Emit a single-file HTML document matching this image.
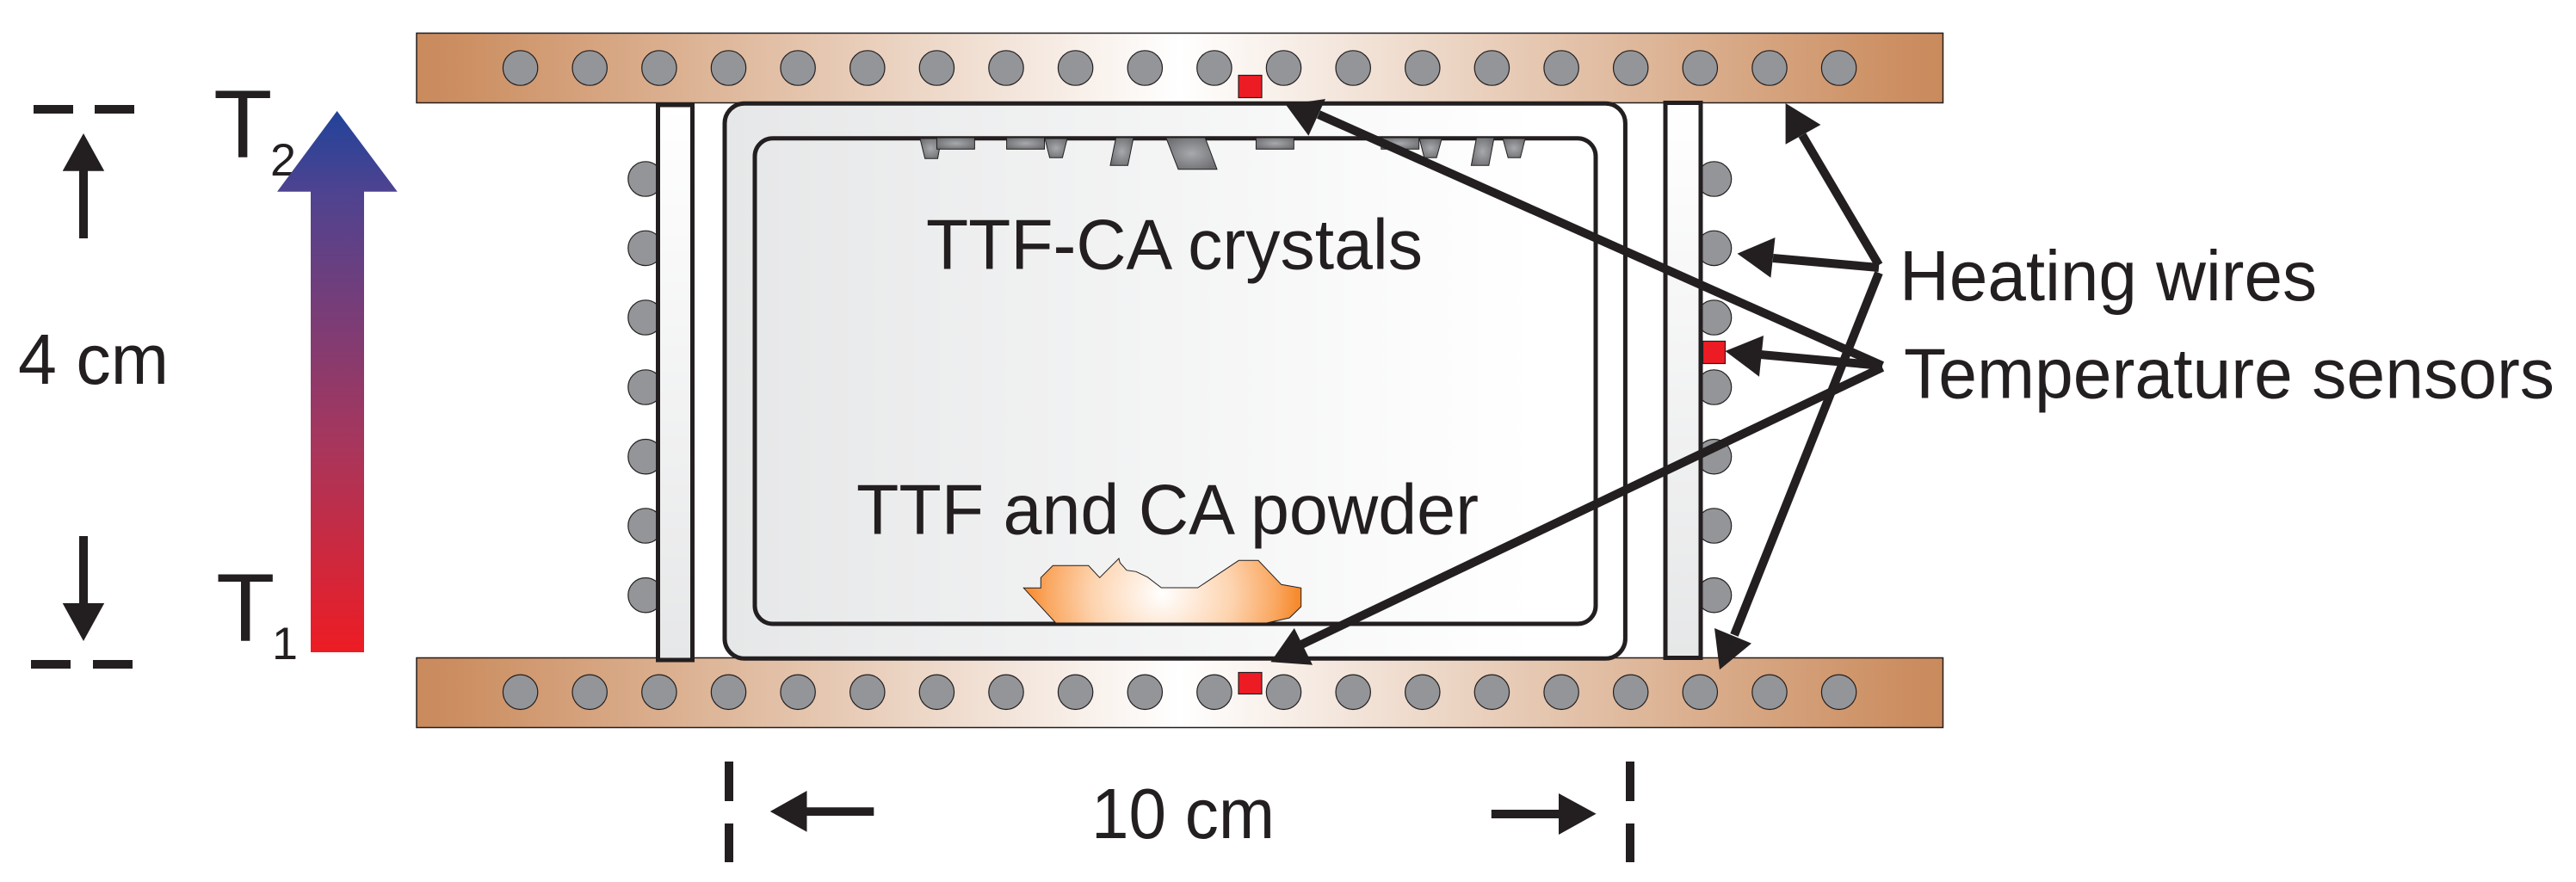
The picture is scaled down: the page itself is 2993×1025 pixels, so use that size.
<!DOCTYPE html>
<html><head><meta charset="utf-8"><style>html,body{margin:0;padding:0;background:#fff}svg{display:block}text{font-family:"Liberation Sans",sans-serif;fill:#231f20}</style></head><body>
<svg xmlns="http://www.w3.org/2000/svg" width="2993" height="1025" viewBox="0 0 2993 1025">
<defs>
<linearGradient id="pl" gradientUnits="userSpaceOnUse" x1="483" y1="0" x2="2258" y2="0"><stop offset="0" stop-color="#c98a5c"/><stop offset=".03" stop-color="#cc8f62"/><stop offset=".5" stop-color="#fff"/><stop offset=".97" stop-color="#cc8f62"/><stop offset="1" stop-color="#c98a5c"/></linearGradient>
<linearGradient id="gl" gradientUnits="userSpaceOnUse" x1="842" y1="0" x2="1780" y2="0"><stop offset="0" stop-color="#e6e7e8"/><stop offset="1" stop-color="#fff"/></linearGradient>
<linearGradient id="wl" x1="0" y1="0" x2="0" y2="1"><stop offset="0" stop-color="#fff"/><stop offset="1" stop-color="#e6e7e8"/></linearGradient>
<linearGradient id="ar" gradientUnits="userSpaceOnUse" x1="0" y1="129" x2="0" y2="758"><stop offset="0" stop-color="#21439a"/><stop offset=".15" stop-color="#4e4390"/><stop offset=".62" stop-color="#a8365c"/><stop offset="1" stop-color="#ed1c24"/></linearGradient>
<radialGradient id="cr" cx=".5" cy=".5" r=".6"><stop offset="0" stop-color="#a7a9ac"/><stop offset="1" stop-color="#6d6e71"/></radialGradient>
<radialGradient id="po" gradientUnits="userSpaceOnUse" cx="0" cy="0" r="1" gradientTransform="translate(1350 690) scale(165 150)"><stop offset="0" stop-color="#fff"/><stop offset=".5" stop-color="#fdd3ae"/><stop offset=".8" stop-color="#faa862"/><stop offset="1" stop-color="#f58220"/></radialGradient>
</defs>
<rect x="484" y="38.5" width="1773.5" height="81" fill="url(#pl)" stroke="#231f20" stroke-width="1.5"/>
<rect x="484" y="764.5" width="1773.5" height="81" fill="url(#pl)" stroke="#231f20" stroke-width="1.5"/>
<g fill="#939598" stroke="#231f20" stroke-width="1.2">
<circle cx="604.6" cy="79" r="20.2"/><circle cx="685.2" cy="79" r="20.2"/><circle cx="765.9" cy="79" r="20.2"/><circle cx="846.5" cy="79" r="20.2"/><circle cx="927.1" cy="79" r="20.2"/><circle cx="1007.8" cy="79" r="20.2"/><circle cx="1088.4" cy="79" r="20.2"/><circle cx="1169" cy="79" r="20.2"/><circle cx="1249.6" cy="79" r="20.2"/><circle cx="1330.3" cy="79" r="20.2"/><circle cx="1410.9" cy="79" r="20.2"/><circle cx="1491.5" cy="79" r="20.2"/><circle cx="1572.2" cy="79" r="20.2"/><circle cx="1652.8" cy="79" r="20.2"/><circle cx="1733.4" cy="79" r="20.2"/><circle cx="1814.1" cy="79" r="20.2"/><circle cx="1894.7" cy="79" r="20.2"/><circle cx="1975.3" cy="79" r="20.2"/><circle cx="2056" cy="79" r="20.2"/><circle cx="2136.6" cy="79" r="20.2"/>
<circle cx="604.6" cy="804.3" r="20.2"/><circle cx="685.2" cy="804.3" r="20.2"/><circle cx="765.9" cy="804.3" r="20.2"/><circle cx="846.5" cy="804.3" r="20.2"/><circle cx="927.1" cy="804.3" r="20.2"/><circle cx="1007.8" cy="804.3" r="20.2"/><circle cx="1088.4" cy="804.3" r="20.2"/><circle cx="1169" cy="804.3" r="20.2"/><circle cx="1249.6" cy="804.3" r="20.2"/><circle cx="1330.3" cy="804.3" r="20.2"/><circle cx="1410.9" cy="804.3" r="20.2"/><circle cx="1491.5" cy="804.3" r="20.2"/><circle cx="1572.2" cy="804.3" r="20.2"/><circle cx="1652.8" cy="804.3" r="20.2"/><circle cx="1733.4" cy="804.3" r="20.2"/><circle cx="1814.1" cy="804.3" r="20.2"/><circle cx="1894.7" cy="804.3" r="20.2"/><circle cx="1975.3" cy="804.3" r="20.2"/><circle cx="2056" cy="804.3" r="20.2"/><circle cx="2136.6" cy="804.3" r="20.2"/>
<circle cx="750" cy="208" r="20.2"/><circle cx="750" cy="288.4" r="20.2"/><circle cx="750" cy="369" r="20.2"/><circle cx="750" cy="450" r="20.2"/><circle cx="750" cy="530.7" r="20.2"/><circle cx="750" cy="611" r="20.2"/><circle cx="750" cy="691.7" r="20.2"/>
<circle cx="1991.5" cy="208" r="20.2"/><circle cx="1991.5" cy="288.4" r="20.2"/><circle cx="1991.5" cy="369" r="20.2"/><circle cx="1991.5" cy="450" r="20.2"/><circle cx="1991.5" cy="530.7" r="20.2"/><circle cx="1991.5" cy="611" r="20.2"/><circle cx="1991.5" cy="691.7" r="20.2"/>
</g>
<rect x="842" y="120.3" width="1046.4" height="645" rx="23" ry="23" fill="url(#gl)" stroke="#231f20" stroke-width="5"/>
<rect x="877" y="160.7" width="977" height="564.3" rx="21" ry="21" fill="url(#gl)" stroke="#231f20" stroke-width="5"/>
<rect x="764.5" y="122" width="40" height="645" fill="url(#wl)" stroke="#231f20" stroke-width="5"/>
<rect x="1935" y="119.5" width="41" height="645" fill="url(#wl)" stroke="#231f20" stroke-width="5"/>
<g fill="url(#cr)" stroke="#231f20" stroke-width="1">
<polygon points="1069,161 1093.6,161 1089.5,184.3 1074.7,184.3"/>
<rect x="1088.5" y="160" width="43.9" height="13.3"/>
<rect x="1169.6" y="160" width="43.9" height="13.3"/>
<polygon points="1214,161 1240,161 1234.4,183.3 1219.6,183.3"/>
<polygon points="1296.6,160 1317,160 1310.4,192.3 1290,192.3"/>
<polygon points="1354.8,160 1400.2,160 1414,196.7 1369,196.7"/>
<rect x="1459.4" y="160" width="43.9" height="13.3"/>
<rect x="1604.8" y="160" width="43.9" height="13.3"/>
<polygon points="1649.2,161 1675.2,161 1669.1,183.3 1654.8,183.3"/>
<polygon points="1715.5,160 1736,160 1729.8,192.3 1709.4,192.3"/>
<polygon points="1746.1,161 1772.1,161 1766.5,183.3 1752.2,183.3"/>
</g>
<polygon fill="url(#po)" stroke="#231f20" stroke-width="1" points="1189.3,683.3 1209.3,683.3 1209.3,671.3 1223.3,657.3 1264.7,657.3 1277.7,671.3 1300,649 1301.3,654 1309,662.7 1320,664.3 1333.3,670.7 1349.3,683 1391.7,683 1439.3,651.3 1462,651.3 1488.7,679.3 1511.7,683.3 1511.7,705 1498.3,718 1471.7,724 1226.7,724"/>
<g fill="#ed1c24" stroke="#231f20" stroke-width="1.2">
<rect x="1439" y="87.5" width="27" height="26"/>
<rect x="1439" y="781.5" width="27" height="25"/>
<rect x="1978.5" y="396.5" width="26" height="26"/>
</g>
<text x="248" y="183" font-size="112">T</text>
<text x="314" y="204" font-size="53" textLength="30" lengthAdjust="spacingAndGlyphs">2</text>
<text x="251" y="745" font-size="112">T</text>
<text x="316" y="766" font-size="53" textLength="30" lengthAdjust="spacingAndGlyphs">1</text>
<polygon fill="url(#ar)" points="391.6,129 461.7,222.7 423,222.7 423,758 361,758 361,222.7 322,222.7"/>
<g fill="#231f20">
<rect x="39" y="122" width="46" height="10"/><rect x="110" y="122" width="46" height="10"/>
<rect x="36" y="767" width="46" height="10"/><rect x="108" y="767" width="46" height="10"/>
<polygon points="97,155 121.2,198.7 102,198.7 102,277 92,277 92,198.7 72.7,198.7"/>
<polygon points="97,745 121.2,701 102,701 102,623 92,623 92,701 72.7,701"/>
<rect x="842" y="885" width="10" height="46"/><rect x="842" y="957" width="10" height="45"/>
<rect x="1889" y="885" width="10" height="46"/><rect x="1889" y="957" width="10" height="45"/>
<polygon points="894.8,943 937.5,919 937.5,938.3 1015.3,938.3 1015.3,948 937.5,948 937.5,966.7"/>
<polygon points="1854.6,945.7 1811,922 1811,941 1732.8,941 1732.8,951 1811,951 1811,970"/>
</g>
<text x="21" y="446" font-size="83" textLength="175" lengthAdjust="spacingAndGlyphs">4 cm</text>
<text x="1076" y="312.7" font-size="83" textLength="577" lengthAdjust="spacingAndGlyphs">TTF-CA crystals</text>
<text x="995" y="620.7" font-size="83" textLength="723" lengthAdjust="spacingAndGlyphs">TTF and CA powder</text>
<text x="1268" y="974" font-size="83" textLength="213" lengthAdjust="spacingAndGlyphs">10 cm</text>
<text x="2207" y="349" font-size="83" textLength="485" lengthAdjust="spacingAndGlyphs">Heating wires</text>
<text x="2212" y="462.7" font-size="83" textLength="756" lengthAdjust="spacingAndGlyphs">Temperature sensors</text>
<g stroke="#231f20" stroke-width="10" fill="none">
<path d="M2094 157L2183 308"/>
<path d="M2060 300L2183 311"/>
<path d="M2183 317L2015 738"/>
<path d="M1532 133L2187 425"/>
<path d="M2045 412L2187 425"/>
<path d="M1510 750L2187 427"/>
</g>
<g fill="#231f20">
<polygon points="2074.6,120 2115.4,145 2074.6,167.7"/>
<polygon points="2018.5,294.7 2062.5,276 2057.4,322.7"/>
<polygon points="1998,778.3 2035,747.7 1992,730"/>
<polygon points="1494,121.7 1540,115 1520.4,157.7"/>
<polygon points="2004.5,408 2049,390 2044,437.7"/>
<polygon points="1476.4,769.3 1503.8,730 1525,772.7"/>
</g>
</svg>
</body></html>
